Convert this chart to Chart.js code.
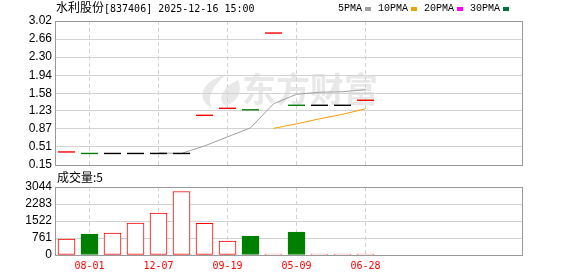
<!DOCTYPE html>
<html>
<head>
<meta charset="utf-8">
<script src="https://cdn.jsdelivr.net/npm/chart.js@4/dist/chart.umd.min.js"></script>
<style>
  body { margin: 0; background: #fff; }
  #wrap { position: relative; width: 578px; height: 276px; overflow: hidden; }
  canvas { position: absolute; left: 0; top: 0; }
  .txt { position: absolute; white-space: nowrap; color: #000; }
  .cjk { font: 12px "Noto Sans CJK SC"; }
  .mono { font: 10px "DejaVu Sans Mono"; }
  #title { left: 56px; top: -2px; }
  #volTitle { left: 57px; top: 168px; }
  #legend { position: absolute; left: 338px; top: 3px; display: flex; align-items: center; font: 10px "Liberation Mono"; }
  #legend .sw { display: inline-block; width: 6px; height: 4px; margin: 0 7px 0 3px; }
</style>
</head>
<body>
<div id="wrap">
  <canvas id="kline" width="578" height="276"></canvas>
  <canvas id="vol" width="578" height="276"></canvas>
  <div class="txt cjk" id="title">水利股份<span class="mono">[837406] 2025-12-16 15:00</span></div>
  <div id="legend"></div>
  <div class="txt cjk" id="volTitle">成交量:5</div>
</div>
<script>
// bars / trading days, left to right
const dayIdx = [0, 1, 2, 3, 4, 5, 6, 7, 8, 9, 10, 11, 12, 13];
// dates shown under every third bar
const dateTickIdx = [1, 4, 7, 10, 13];
const dateLabels = ['08-01', '12-07', '09-19', '05-09', '06-28'];

// closing price of each day (open = high = low = close on these days)
const closePrice = [0.41, 0.38, 0.38, 0.38, 0.38, 0.38, 1.14, 1.28, 1.25, 2.78, 1.34, 1.34, 1.34, 1.44];
// up / down / flat for the price marks
const priceDir = ['up', 'down', 'flat', 'flat', 'flat', 'flat', 'up', 'up', 'down', 'up', 'down', 'flat', 'flat', 'up'];
// moving averages
const ma5 = [null, null, null, null, 0.39, 0.38, 0.53, 0.71, 0.89, 1.37, 1.56, 1.60, 1.61, 1.65];
const ma10 = [null, null, null, null, null, null, null, null, null, 0.88, 0.97, 1.07, 1.16, 1.27];

// volume of each day and how its bar is drawn
const volume = [714, 937, 981, 1427, 1873, 2841, 1414, 624, 847, 5, 1026, 5, 5, 5];
const volDir = ['up', 'down', 'up', 'up', 'up', 'up', 'up', 'up', 'down', 'up', 'down', 'up', 'up', 'up'];

// axis tick labels
const priceTickLabels = ['0.15', '0.51', '0.87', '1.23', '1.58', '1.94', '2.30', '2.66', '3.02'];
const volTickLabels = ['0', '761', '1522', '2283', '3044'];

// legend
const maNames = ['5PMA', '10PMA', '20PMA', '30PMA'];
const maColors = ['#a0a0a0', '#f0a000', '#ff00ff', '#00703c'];

const dirColor = { up: '#ff0000', down: '#008000', flat: '#000000' };

// build the legend row
const legend = document.getElementById('legend');
maNames.forEach(function(name, i) {
    const t = document.createElement('span');
    t.textContent = name;
    const sw = document.createElement('span');
    sw.className = 'sw';
    sw.style.background = maColors[i];
    legend.appendChild(t);
    legend.appendChild(sw);
});

// gray frame round the plot area
const framePlugin = {
    id: 'frame',
    afterDraw(chart) {
        const a = chart.chartArea;
        const ctx = chart.ctx;
        ctx.save();
        ctx.strokeStyle = '#999';
        ctx.lineWidth = 1;
        ctx.strokeRect(Math.round(a.left) + 0.5, Math.round(a.top) + 0.5,
            Math.round(a.right - a.left), Math.round(a.bottom - a.top));
        ctx.restore();
    }
};

// faint site watermark (flame logo + name) behind the price chart
const watermarkPlugin = {
    id: 'watermark',
    beforeDraw(chart) {
        const ctx = chart.ctx;
        ctx.save();
        ctx.fillStyle = '#e8e8e8';
        // rough flame shape
        ctx.beginPath();
        ctx.moveTo(226, 74);
        ctx.bezierCurveTo(200, 82, 196, 100, 212, 108);
        ctx.bezierCurveTo(206, 96, 214, 86, 226, 74);
        ctx.fill();
        ctx.beginPath();
        ctx.moveTo(238, 80);
        ctx.bezierCurveTo(222, 88, 216, 100, 226, 106);
        ctx.bezierCurveTo(240, 100, 242, 90, 238, 80);
        ctx.fill();
        ctx.font = 'bold 34px "Noto Sans CJK SC"';
        ctx.textBaseline = 'middle';
        ctx.fillText('东方财富', 242, 89);
        ctx.restore();
    }
};

// one day = 23px across the 467px plot
const xMin = -0.5;
const xMax = 19.804;
const gridColor = '#d3d3d3';

// price chart
new Chart(document.getElementById('kline'), {
    type: 'line',
    data: {
        datasets: [
            {
                label: 'price',
                data: dayIdx.map(i => ({ x: i, y: closePrice[i] })),
                showLine: false,
                pointStyle: 'line',
                pointRadius: 8.5,
                pointHoverRadius: 8.5,
                pointBorderWidth: 1.4,
                pointBorderColor: priceDir.map(d => dirColor[d])
            },
            {
                label: maNames[0],
                data: dayIdx.map(i => ({ x: i, y: ma5[i] })),
                borderColor: maColors[0],
                borderWidth: 1,
                pointRadius: 0,
                tension: 0
            },
            {
                label: maNames[1],
                data: dayIdx.map(i => ({ x: i, y: ma10[i] })),
                borderColor: maColors[1],
                borderWidth: 1,
                pointRadius: 0,
                tension: 0
            }
        ]
    },
    options: {
        responsive: false,
        animation: false,
        devicePixelRatio: 1,
        layout: { padding: { top: 21, right: 56, bottom: 111, left: 0 } },
        plugins: { legend: { display: false }, tooltip: { enabled: false } },
        scales: {
            x: {
                type: 'linear',
                min: xMin,
                max: xMax,
                afterFit: s => { s.height = 0; },
                afterBuildTicks: s => { s.ticks = dateTickIdx.map(v => ({ value: v })); },
                ticks: { display: false },
                grid: { color: gridColor, drawTicks: false },
                border: { display: false, dash: [4, 3] }
            },
            y: {
                min: 0.15,
                max: 3.02,
                afterFit: s => { s.width = 55; },
                afterBuildTicks: s => { s.ticks = priceTickLabels.map(v => ({ value: parseFloat(v) })); },
                ticks: {
                    autoSkip: false,
                    padding: 3,
                    color: '#000',
                    font: { family: 'Liberation Sans', size: 12 },
                    callback: (v, i) => priceTickLabels[i]
                },
                grid: { color: gridColor, drawTicks: false },
                border: { display: false }
            }
        }
    },
    plugins: [watermarkPlugin, framePlugin]
});

// volume chart
new Chart(document.getElementById('vol'), {
    type: 'bar',
    data: {
        datasets: [{
            label: 'volume',
            data: dayIdx.map(i => ({ x: i, y: volume[i] })),
            backgroundColor: volDir.map(d => d == 'down' ? dirColor.down : '#ffffff'),
            borderColor: volDir.map(d => dirColor[d]),
            borderWidth: 1,
            borderSkipped: false,
            barThickness: 17,
            minBarLength: 1
        }]
    },
    options: {
        responsive: false,
        animation: false,
        devicePixelRatio: 1,
        layout: { padding: { top: 187, right: 56, bottom: 0, left: 0 } },
        plugins: { legend: { display: false }, tooltip: { enabled: false } },
        scales: {
            x: {
                type: 'linear',
                min: xMin,
                max: xMax,
                offset: false,
                afterFit: s => { s.height = 21; },
                afterBuildTicks: s => { s.ticks = dateTickIdx.map(v => ({ value: v })); },
                ticks: {
                    autoSkip: false,
                    maxRotation: 0,
                    padding: 5,
                    color: '#ff0000',
                    font: { family: 'DejaVu Sans Mono', size: 10 },
                    callback: (v, i) => dateLabels[i]
                },
                grid: { color: gridColor, drawTicks: false, offset: false },
                border: { display: false, dash: [4, 3] }
            },
            y: {
                min: 0,
                max: 3044,
                afterFit: s => { s.width = 55; },
                afterBuildTicks: s => { s.ticks = volTickLabels.map(v => ({ value: parseFloat(v) })); },
                ticks: {
                    autoSkip: false,
                    padding: 3,
                    color: '#000',
                    font: { family: 'Liberation Sans', size: 12 },
                    callback: (v, i) => volTickLabels[i]
                },
                grid: { color: gridColor, drawTicks: false },
                border: { display: false }
            }
        }
    },
    plugins: [framePlugin]
});
</script>
</body>
</html>
